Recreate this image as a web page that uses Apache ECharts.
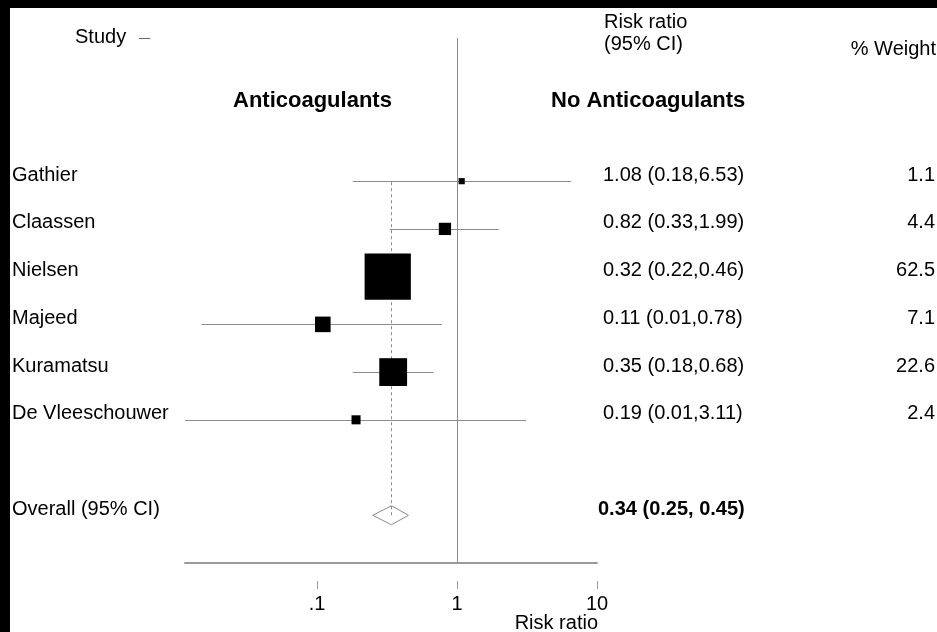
<!DOCTYPE html>
<html><head><meta charset="utf-8">
<script src="https://cdn.jsdelivr.net/npm/echarts@6/dist/echarts.min.js"></script>
<style>html,body{margin:0;padding:0;background:#fff}#c{width:937px;height:632px}</style>
</head><body><div id="c"></div>
<script>
// ---- data ----
const studies = ['Gathier', 'Claassen', 'Nielsen', 'Majeed', 'Kuramatsu', 'De Vleeschouwer'];
const riskRatio = [1.08, 0.82, 0.32, 0.11, 0.35, 0.19];
const ciLow = [0.18, 0.33, 0.22, 0.015, 0.18, 0.01];
const ciHigh = [6.53, 1.99, 0.46, 0.78, 0.68, 3.11];
const estimateLabels = ['1.08 (0.18,6.53)', '0.82 (0.33,1.99)', '0.32 (0.22,0.46)', '0.11 (0.01,0.78)', '0.35 (0.18,0.68)', '0.19 (0.01,3.11)'];
const weights = [1.1, 4.4, 62.5, 7.1, 22.6, 2.4];
const weightLabels = ['1.1', '4.4', '62.5', '7.1', '22.6', '2.4'];
const overallName = 'Overall (95% CI)';
const overallRR = 0.34;
const overallLow = 0.25;
const overallHigh = 0.45;
const overallLabel = '0.34 (0.25, 0.45)';
const tickValues = [0.1, 1, 10];
const tickLabels = ['.1', '1', '10'];
const axisMinValue = 0.0114;
const axisMaxValue = 10;

// ---- layout / style ----
const FONT = '"Liberation Sans", Arial, Helvetica, sans-serif';
const GRAY = '#8c8c8c';
const lg = v => Math.log10(v);
const firstRow = 3, overallRow = 10, lastRow = 11;
const studyRows = studies.map((s, i) => firstRow + i);
const xMin = lg(axisMinValue), xMax = lg(axisMaxValue);
const rowLookup = (arr, v) => { const i = Math.round(v) - firstRow; return arr[i] !== undefined ? arr[i] : ''; };

const baseY = (extra) => Object.assign({
  gridIndex: 0, type: 'value', min: 0, max: lastRow, inverse: true,
  axisLine: { show: false, onZero: false }, axisTick: { show: false }, splitLine: { show: false }
}, extra);

const labelBase = { color: '#000', fontSize: 20, fontFamily: FONT, verticalAlign: 'bottom', lineHeight: 12, hideOverlap: false };

const chart = echarts.init(document.getElementById('c'), null, { renderer: 'canvas' });
const option = {
  animation: false,
  backgroundColor: '#fff',
  grid: [
    { left: 185, right: 340, top: 38, height: 525, outerBoundsMode: 'none', containLabel: false },
    { left: 185, right: 340, top: 580, height: 1, outerBoundsMode: 'none', containLabel: false }
  ],
  xAxis: [
    { gridIndex: 0, type: 'value', min: xMin, max: xMax,
      axisLine: { show: true, onZero: false, lineStyle: { color: '#9a9a9a', width: 2 } },
      axisTick: { show: false }, axisLabel: { show: false }, splitLine: { show: false } },
    { gridIndex: 1, type: 'value', min: xMin, max: xMax,
      axisLine: { show: false, onZero: false },
      axisTick: { show: true, length: 8, lineStyle: { color: '#9a9a9a', width: 1 }, customValues: tickValues.map(lg) },
      axisLabel: { show: true, customValues: tickValues.map(lg), margin: 13, color: '#000', fontSize: 20, fontFamily: FONT,
        formatter: v => { const i = tickValues.findIndex(t => Math.abs(lg(t) - v) < 1e-6); return i >= 0 ? tickLabels[i] : ''; } },
      splitLine: { show: false } }
  ],
  yAxis: [
    baseY({ position: 'left',
      axisLabel: Object.assign({}, labelBase, { customValues: studyRows.concat([overallRow]), align: 'left', margin: 173,
        formatter: v => Math.round(v) === overallRow ? overallName : rowLookup(studies, v) }) }),
    baseY({ position: 'right',
      axisLabel: Object.assign({}, labelBase, { customValues: studyRows, align: 'left', margin: 6,
        formatter: v => rowLookup(estimateLabels, v) }) }),
    baseY({ position: 'right',
      axisLabel: Object.assign({}, labelBase, { customValues: studyRows, align: 'right', margin: 338,
        formatter: v => rowLookup(weightLabels, v) }) }),
    baseY({ position: 'right',
      axisLabel: Object.assign({}, labelBase, { customValues: [overallRow], align: 'left', margin: 1, fontWeight: 'bold',
        formatter: () => overallLabel }) }),
    { gridIndex: 1, type: 'value', show: false, min: 0, max: 1 }
  ],
  series: [
    { // reference line at 1 and dashed overall line
      type: 'custom', xAxisIndex: 0, yAxisIndex: 0, clip: true, silent: true,
      data: [[lg(1), lg(overallRR)]],
      renderItem: (params, api) => {
        const a = api.coord([api.value(0), 0]);
        const b = api.coord([api.value(0), lastRow]);
        const c = api.coord([api.value(1), firstRow]);
        const d = api.coord([api.value(1), overallRow]);
        const ax = Math.round(a[0]) + 0.5, cx = Math.round(c[0]) + 0.5;
        return { type: 'group', children: [
          { type: 'line', shape: { x1: ax, y1: a[1], x2: ax, y2: b[1] }, style: { stroke: GRAY, lineWidth: 1 } },
          { type: 'line', shape: { x1: cx, y1: c[1] + 1, x2: cx, y2: d[1] }, style: { stroke: GRAY, lineWidth: 1, lineDash: [3, 3] } }
        ] };
      }
    },
    { // confidence intervals
      type: 'custom', xAxisIndex: 0, yAxisIndex: 0, clip: true, silent: true,
      encode: { x: [0, 1], y: 2 },
      data: studies.map((s, i) => [lg(ciLow[i]), lg(ciHigh[i]), studyRows[i]]),
      renderItem: (params, api) => {
        const p1 = api.coord([api.value(0), api.value(2)]);
        const p2 = api.coord([api.value(1), api.value(2)]);
        const y = Math.round(p1[1]) + 0.5;
        return { type: 'line', shape: { x1: p1[0], y1: y, x2: p2[0], y2: y }, style: { stroke: GRAY, lineWidth: 1 } };
      }
    },
    { // weighted squares
      type: 'scatter', xAxisIndex: 0, yAxisIndex: 0, silent: true,
      symbol: 'rect',
      symbolSize: val => 5.85 * Math.sqrt(val[2]),
      itemStyle: { color: '#000', opacity: 1 },
      data: studies.map((s, i) => [lg(riskRatio[i]), studyRows[i], weights[i]])
    },
    { // overall diamond
      type: 'custom', xAxisIndex: 0, yAxisIndex: 0, clip: true, silent: true,
      encode: { x: [0, 1, 2], y: 3 },
      data: [[lg(overallLow), lg(overallRR), lg(overallHigh), overallRow]],
      renderItem: (params, api) => {
        const l = api.coord([api.value(0), api.value(3)]);
        const c = api.coord([api.value(1), api.value(3)]);
        const r = api.coord([api.value(2), api.value(3)]);
        const h = 9.5;
        return { type: 'polygon', shape: { points: [[l[0], l[1]], [c[0], c[1] - h], [r[0], r[1]], [c[0], c[1] + h]] },
          style: { fill: 'none', stroke: GRAY, lineWidth: 1 } };
      }
    }
  ],
  graphic: [
    { type: 'rect', shape: { x: 0, y: 0, width: 10, height: 632 }, style: { fill: '#000' }, silent: true },
    { type: 'rect', shape: { x: 0, y: 0, width: 937, height: 8 }, style: { fill: '#000' }, silent: true },
    { type: 'text', x: 75, y: 37, style: { text: 'Study', fill: '#000', font: '20px ' + FONT, align: 'left', verticalAlign: 'middle' } },
    { type: 'line', shape: { x1: 139, y1: 38.5, x2: 150, y2: 38.5 }, style: { stroke: '#666', lineWidth: 1 } },
    { type: 'text', x: 604, y: 22, style: { text: 'Risk ratio', fill: '#000', font: '20px ' + FONT, align: 'left', verticalAlign: 'middle' } },
    { type: 'text', x: 604, y: 44, style: { text: '(95% CI)', fill: '#000', font: '20px ' + FONT, align: 'left', verticalAlign: 'middle' } },
    { type: 'text', x: 936, y: 49, style: { text: '% Weight', fill: '#000', font: '20px ' + FONT, align: 'right', verticalAlign: 'middle' } },
    { type: 'text', x: 233, y: 101, style: { text: 'Anticoagulants', fill: '#000', font: 'bold 22px ' + FONT, align: 'left', verticalAlign: 'middle' } },
    { type: 'text', x: 551, y: 101, style: { text: 'No Anticoagulants', fill: '#000', font: 'bold 22px ' + FONT, align: 'left', verticalAlign: 'middle' } },
    { type: 'text', x: 598, y: 623, style: { text: 'Risk ratio', fill: '#000', font: '20px ' + FONT, align: 'right', verticalAlign: 'middle' } }
  ]
};
chart.setOption(option);
</script>
</body></html>
